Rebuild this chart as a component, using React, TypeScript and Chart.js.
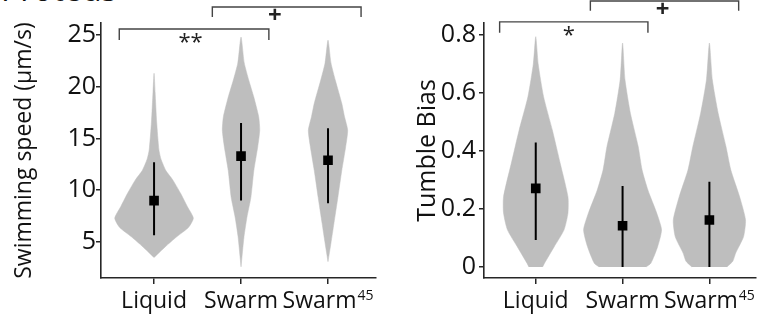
import React, { useEffect, useRef } from 'react';
import { Chart, registerables } from 'chart.js';

Chart.register(...registerables);

const FONT = "'Open Sans', sans-serif";
const VIOLIN = '#bebebe';
const AXIS = '#262626';

const categories = ['Liquid', 'Swarm', 'Swarm'];
const categorySuperscripts = ['', '', '45'];
const categoryPositions = [0, 1, 2];

// ---- Left panel: swimming speed ----
const speedTicks = [5, 10, 15, 20, 25];
const speedTickLabels = ['5', '10', '15', '20', '25'];
const speedMeans = [9.0, 13.3, 12.9];
const speedLow = [5.65, 9.0, 8.75];
const speedHigh = [12.7, 16.5, 16.0];

const speedLiquidLevels = [3.5, 4.5, 5.5, 6.4, 7.3, 8.4, 9.7, 11.0, 11.9, 13.0, 13.9, 16.6, 19.5, 21.3];
const speedLiquidWidths = [0, 0.124, 0.26, 0.395, 0.452, 0.384, 0.305, 0.215, 0.136, 0.08, 0.056, 0.03, 0.012, 0];
const speedSwarmLevels = [2.6, 5.5, 7.4, 9.3, 11.9, 14.2, 15.8, 17.1, 19.0, 20.6, 22.3, 24.8];
const speedSwarmWidths = [0, 0.034, 0.068, 0.113, 0.147, 0.192, 0.215, 0.203, 0.147, 0.09, 0.037, 0];
const speedSwarm45Levels = [3.1, 4.9, 6.8, 9.3, 11.9, 14.2, 15.8, 17.1, 18.4, 20.6, 22.3, 24.5];
const speedSwarm45Widths = [0, 0.034, 0.068, 0.113, 0.158, 0.203, 0.226, 0.19, 0.158, 0.085, 0.034, 0];

const speedBrackets = [
  { from: -0.4, to: 1.32, top: 25.58, leg: 24.52, label: '**', labelX: 0.42 },
  { from: 0.67, to: 2.38, top: 27.7, leg: 26.74, label: '+', labelX: 1.39 },
];

// ---- Right panel: tumble bias ----
const biasTicks = [0, 0.2, 0.4, 0.6, 0.8];
const biasTickLabels = ['0', '0.2', '0.4', '0.6', '0.8'];
const biasMeans = [0.271, 0.142, 0.162];
const biasLow = [0.093, 0, 0];
const biasHigh = [0.429, 0.279, 0.294];

const biasLiquidLevels = [0, 0.013, 0.07, 0.128, 0.186, 0.242, 0.358, 0.472, 0.587, 0.7, 0.794];
const biasLiquidWidths = [0.079, 0.101, 0.213, 0.326, 0.371, 0.371, 0.281, 0.191, 0.09, 0.028, 0];
const biasSwarmLevels = [0, 0.013, 0.07, 0.128, 0.186, 0.265, 0.334, 0.415, 0.53, 0.645, 0.772];
const biasSwarmWidths = [0.27, 0.326, 0.404, 0.449, 0.393, 0.292, 0.225, 0.18, 0.09, 0.028, 0];
const biasSwarm45Levels = [0, 0.02, 0.048, 0.104, 0.162, 0.242, 0.334, 0.415, 0.53, 0.645, 0.772];
const biasSwarm45Widths = [0.202, 0.27, 0.303, 0.393, 0.416, 0.348, 0.247, 0.191, 0.101, 0.034, 0];

const biasBrackets = [
  { from: -0.416, to: 1.292, top: 0.845, leg: 0.807, label: '*', labelX: 0.382 },
  { from: 0.629, to: 2.337, top: 0.917, leg: 0.883, label: '+', labelX: 1.46 },
];

type Bracket = { from: number; to: number; top: number; leg: number; label: string; labelX: number };

interface PanelSpec {
  title: string;
  titleSize: number;
  titlePad: number;
  yMin: number;
  yMax: number;
  xMin: number;
  xMax: number;
  ticks: number[];
  tickLabels: string[];
  yTickPad: number;
  levels: number[][];
  widths: number[][];
  means: number[];
  lows: number[];
  highs: number[];
  brackets: Bracket[];
  padRight: number;
}

function violinPoints(center: number, levels: number[], widths: number[]) {
  const left = levels.map((v, i) => ({ x: center - widths[i], y: v }));
  const right = levels.map((v, i) => ({ x: center + widths[i], y: v })).reverse();
  if (widths[widths.length - 1] === 0) right.shift();
  return [...left, ...right];
}

function buildConfig(p: PanelSpec): any {
  const datasets: any[] = [];
  categoryPositions.forEach((c, i) => {
    datasets.push({
      data: violinPoints(c, p.levels[i], p.widths[i]),
      borderColor: VIOLIN,
      backgroundColor: VIOLIN,
      borderWidth: 0.5,
      pointRadius: 0,
      tension: 0.2,
      fill: 'shape',
      order: 5,
    });
    datasets.push({
      data: [
        { x: c, y: p.lows[i] },
        { x: c, y: p.highs[i] },
      ],
      borderColor: '#000',
      borderWidth: 2,
      pointRadius: 0,
      fill: false,
      order: 3,
    });
  });
  datasets.push({
    data: categoryPositions.map((c, i) => ({ x: c, y: p.means[i] })),
    showLine: false,
    pointStyle: 'rect',
    pointRadius: 6.8,
    backgroundColor: '#000',
    borderWidth: 0,
    order: 1,
  });
  p.brackets.forEach((b) => {
    datasets.push({
      data: [
        { x: b.from, y: b.leg },
        { x: b.from, y: b.top },
        { x: b.to, y: b.top },
        { x: b.to, y: b.leg },
      ],
      borderColor: '#444',
      borderWidth: 1.4,
      pointRadius: 0,
      fill: false,
      clip: false,
      order: 2,
    });
  });

  const annotations = {
    id: 'annotations',
    afterDatasetsDraw(chart: any) {
      const { ctx, scales, chartArea } = chart;
      ctx.save();
      ctx.fillStyle = '#222';
      ctx.textAlign = 'center';
      ctx.textBaseline = 'middle';
      p.brackets.forEach((b) => {
        const x = scales.x.getPixelForValue(b.labelX);
        const y = scales.y.getPixelForValue(b.top) + 9;
        const plus = b.label === '+';
        ctx.font = `${plus ? 'bold 24px' : '22px'} ${FONT}`;
        ctx.fillText(b.label, x, plus ? y : y + 5);
      });
      // category labels with superscripts
      ctx.fillStyle = '#111';
      ctx.textBaseline = 'alphabetic';
      ctx.textAlign = 'left';
      const baseFont = `23px ${FONT}`;
      const supFont = `14px ${FONT}`;
      const baseline = chartArea.bottom + 30;
      categoryPositions.forEach((c, i) => {
        const x = scales.x.getPixelForValue(c);
        ctx.font = baseFont;
        const w1 = ctx.measureText(categories[i]).width;
        ctx.font = supFont;
        const w2 = categorySuperscripts[i] ? ctx.measureText(categorySuperscripts[i]).width + 1 : 0;
        const start = x - (w1 + w2) / 2;
        ctx.font = baseFont;
        ctx.fillText(categories[i], start, baseline);
        if (categorySuperscripts[i]) {
          ctx.font = supFont;
          ctx.fillText(categorySuperscripts[i], start + w1 + 1, baseline - 8);
        }
      });
      ctx.restore();
    },
  };

  return {
    type: 'line',
    data: { datasets },
    plugins: [annotations],
    options: {
      animation: false,
      responsive: false,
      events: [],
      layout: { padding: { top: 23, right: p.padRight, bottom: 0, left: 0 } },
      plugins: { legend: { display: false }, tooltip: { enabled: false } },
      scales: {
        x: {
          type: 'linear',
          min: p.xMin,
          max: p.xMax,
          afterBuildTicks: (s: any) => {
            s.ticks = categoryPositions.map((v) => ({ value: v }));
          },
          afterFit: (s: any) => {
            s.height = 42;
          },
          ticks: { display: false },
          grid: { drawOnChartArea: false, drawTicks: true, tickLength: 6, color: AXIS, lineWidth: 1.5 },
          border: { display: true, color: AXIS, width: 1.6 },
        },
        y: {
          type: 'linear',
          min: p.yMin,
          max: p.yMax,
          afterBuildTicks: (s: any) => {
            s.ticks = p.ticks.map((v) => ({ value: v }));
          },
          afterFit: (s: any) => {
            s.width = 101;
          },
          ticks: {
            callback: (_v: any, i: number) => p.tickLabels[i],
            font: { family: FONT, size: 25 },
            color: '#111',
            padding: p.yTickPad,
          },
          grid: { drawOnChartArea: false, tickLength: 5, color: AXIS, lineWidth: 1.5 },
          border: { display: true, color: AXIS, width: 1.6 },
          title: {
            display: true,
            text: p.title,
            font: { family: FONT, size: p.titleSize },
            color: '#111',
            padding: { top: p.titlePad, bottom: 0 },
          },
        },
      },
    },
  };
}

const speedPanel: PanelSpec = {
  title: 'Swimming speed (\u00b5m/s)',
  titleSize: 23,
  titlePad: 11,
  yMin: 1.52,
  yMax: 26.16,
  xMin: -0.61,
  xMax: 2.554,
  ticks: speedTicks,
  tickLabels: speedTickLabels,
  yTickPad: 0,
  levels: [speedLiquidLevels, speedSwarmLevels, speedSwarm45Levels],
  widths: [speedLiquidWidths, speedSwarmWidths, speedSwarm45Widths],
  means: speedMeans,
  lows: speedLow,
  highs: speedHigh,
  brackets: speedBrackets,
  padRight: 2,
};

const biasPanel: PanelSpec = {
  title: 'Tumble Bias',
  titleSize: 25,
  titlePad: 30,
  yMin: -0.038,
  yMax: 0.841,
  xMin: -0.596,
  xMax: 2.539,
  ticks: biasTicks,
  tickLabels: biasTickLabels,
  yTickPad: 3,
  levels: [biasLiquidLevels, biasSwarmLevels, biasSwarm45Levels],
  widths: [biasLiquidWidths, biasSwarmWidths, biasSwarm45Widths],
  means: biasMeans,
  lows: biasLow,
  highs: biasHigh,
  brackets: biasBrackets,
  padRight: 0,
};

function Panel({ spec, left, width }: { spec: PanelSpec; left: number; width: number }) {
  const ref = useRef<HTMLCanvasElement>(null);
  useEffect(() => {
    if (!ref.current) return;
    const chart = new Chart(ref.current, buildConfig(spec));
    return () => chart.destroy();
  }, [spec]);
  return (
    <canvas
      ref={ref}
      width={width}
      height={320}
      style={{ position: 'absolute', left, top: 0, width, height: 320 }}
    />
  );
}

export default function App() {
  return (
    <div
      style={{
        position: 'absolute',
        left: 0,
        top: 0,
        width: 763,
        height: 320,
        overflow: 'hidden',
        background: '#fff',
      }}
    >
      <div
        style={{
          position: 'absolute',
          left: 1,
          top: -27,
          fontFamily: FONT,
          fontSize: 32,
          lineHeight: '32px',
          color: '#111',
          whiteSpace: 'nowrap',
        }}
      >
        Proteus
      </div>
      <Panel spec={speedPanel} left={0} width={383} />
      <Panel spec={biasPanel} left={383} width={380} />
    </div>
  );
}
